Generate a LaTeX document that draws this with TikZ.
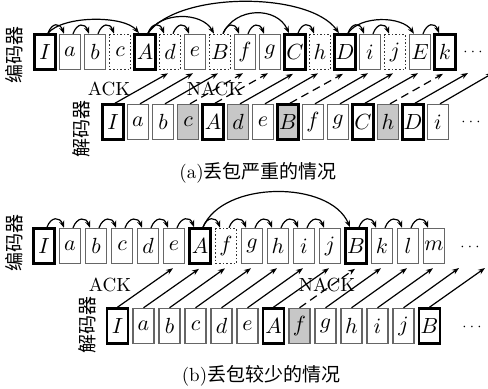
\documentclass[tikz,border=0pt]{standalone}
\usepackage{fontspec}
\newfontfamily\cjk{Noto Sans CJK SC}
\usetikzlibrary{arrows.meta}

\begin{document}
\begin{tikzpicture}[x=0.5pt,y=-0.5pt,
    >={Stealth[length=3.5pt,width=2.6pt]},
    box/.style={minimum width=10.5pt,minimum height=17.5pt,inner sep=0pt,font=\fontsize{10.5}{12}\selectfont},
    pkt/.style={box,draw=black!60,line width=0.7pt},
    keyfr/.style={box,draw=black,line width=1.3pt},
    lost/.style={box,draw=black!80,line width=0.8pt,densely dotted},
    miss/.style={pkt,fill=black!22},
    misskey/.style={keyfr,fill=black!22},
    ref/.style={->,line width=0.6pt},
    ack/.style={->,line width=0.6pt},
    nack/.style={->,line width=0.6pt,dash pattern=on 4pt off 2.5pt},
    msg/.style={font=\fontsize{9.5}{11}\selectfont},
    sidetext/.style={rotate=90,font=\fontsize{9.5}{11}\selectfont\cjk},
    captext/.style={font=\fontsize{9.5}{11}\selectfont},
    dots/.style={font=\scriptsize}]
        \useasboundingbox (0,0) rectangle (488,388);

        % (a) encoder row
        \foreach \t/\s [count=\i from 0] in {I/keyfr,a/pkt,b/pkt,c/lost,A/keyfr,d/lost,e/pkt,B/lost,f/pkt,g/pkt,C/keyfr,h/lost,D/keyfr,i/pkt,j/lost,E/pkt,k/keyfr}
            \node[\s] (ea\i) at (45+25*\i,52) {$\t$};
        \node[dots] (eadots) at (473,52) {$\cdots$};
        \coordinate (ea17) at (470,70);
        \coordinate (ea18) at (495,70);

        % (a) decoder row
        \foreach \t/\s [count=\i from 0] in {I/keyfr,a/pkt,b/pkt,c/miss,A/keyfr,d/miss,e/pkt,B/misskey,f/pkt,g/pkt,C/keyfr,h/miss,D/keyfr,i/pkt}
            \node[\s] (da\i) at (113+25*\i,122) {$\t$};
        \node[dots] (dadots) at (471,122) {$\cdots$};

        \node[sidetext] (enca) at (14,55) {编码器};
        \node[sidetext] (deca) at (81,129) {解码器};
        \node[msg] (acka) at (109,89) {ACK};
        \node[msg] (nacka) at (215,89) {NACK};

        % (a) references
        \foreach \a/\b in {0/1,1/2,2/3,4/5,5/6,7/8,8/9,10/11,12/13,13/14,15/16}
            \draw[ref] ([xshift=1.5pt]ea\a.north) .. controls +(4,-11) and +(-4,-11) .. ([xshift=-3pt]ea\b.north);
        \foreach \a/\b/\w/\h in {0/4/15/18,4/7/12/22,7/10/12/27,12/15/12/18,4/12/30/42}
            \draw[ref] ([xshift=1.5pt]ea\a.north) .. controls +(\w,-\h) and +(-\w,-\h) .. ([xshift=-3pt]ea\b.north);

        % (a) feedback
        \foreach \i/\s in {0/ack,1/ack,2/ack,3/nack,4/nack,5/ack,6/ack,7/nack,8/ack,9/ack,10/ack,11/nack,12/ack,13/ack}{
            \pgfmathtruncatemacro{\k}{\i+5}
            \draw[\s] ([xshift=1pt]da\i.north) -- ([xshift=-1pt,yshift=-1.5pt]ea\k.south);
        }

        \node[captext] (capa) at (258,173) {(a)\cjk 丢包严重的情况};

        % (b) encoder row
        \foreach \t/\s [count=\i from 0] in {I/keyfr,a/pkt,b/pkt,c/pkt,d/pkt,e/pkt,A/keyfr,f/lost,g/pkt,h/pkt,i/pkt,j/pkt,B/keyfr,k/pkt,l/pkt,m/pkt}
            \node[\s] (eb\i) at (44+26*\i,246) {$\t$};
        \node[dots] (ebdots) at (470,247) {$\cdots$};
        \coordinate (eb16) at (460,264);
        \coordinate (eb17) at (486,264);

        % (b) decoder row
        \foreach \t/\s [count=\i from 0] in {I/keyfr,a/pkt,b/pkt,c/pkt,d/pkt,e/pkt,A/keyfr,f/miss,g/pkt,h/pkt,i/pkt,j/pkt,B/keyfr}
            \node[\s] (db\i) at (117.5+26*\i,326) {$\t$};
        \node[dots] (dbdots) at (472,327) {$\cdots$};

        \node[sidetext] (encb) at (14,243) {编码器};
        \node[sidetext] (decb) at (87,325) {解码器};
        \node[msg] (ackb) at (110,285) {ACK};
        \node[msg] (nackb) at (327,285) {NACK};

        % (b) references
        \foreach \a/\b in {0/1,1/2,2/3,3/4,4/5,5/6,6/7,7/8,8/9,9/10,10/11,12/13,13/14,14/15}
            \draw[ref] ([xshift=1.5pt]eb\a.north) .. controls +(4,-11) and +(-4,-11) .. ([xshift=-3pt]eb\b.north);
        \draw[ref] ([xshift=1.5pt]eb6.north) .. controls +(20,-47) and +(-20,-47) .. ([xshift=-3pt]eb12.north);

        % (b) feedback
        \foreach \i/\s in {0/ack,1/ack,2/ack,3/ack,4/ack,5/ack,6/ack,7/nack,8/ack,9/ack,10/ack,11/ack,12/ack}{
            \pgfmathtruncatemacro{\k}{\i+5}
            \draw[\s] (db\i.north) -- ([xshift=-0.5pt,yshift=-2pt]eb\k.south);
        }

        \node[captext] (capb) at (261,376) {(b)\cjk 丢包较少的情况};
\end{tikzpicture}
\end{document}
